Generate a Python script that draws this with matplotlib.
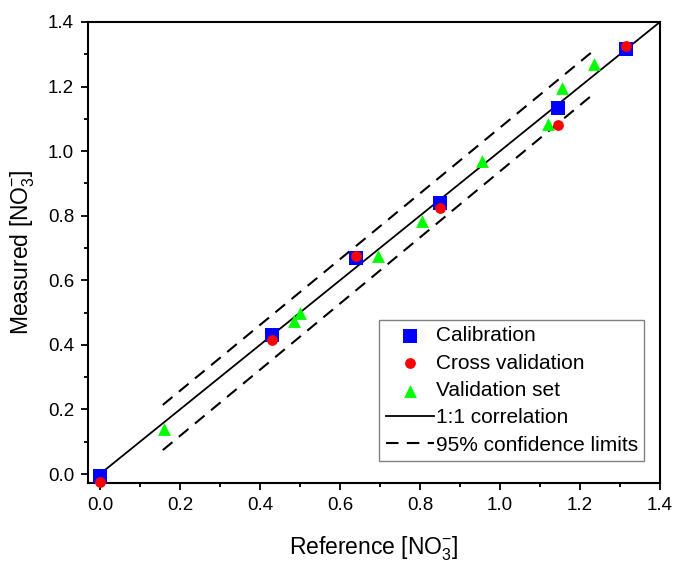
import numpy as np
import matplotlib
matplotlib.use("Agg")
import matplotlib.pyplot as plt
from matplotlib.ticker import MultipleLocator

plt.rcParams['font.family'] = ['Liberation Sans', 'DejaVu Sans']
plt.rcParams['mathtext.fontset'] = 'custom'
plt.rcParams['mathtext.rm'] = 'Liberation Sans'

# calibration samples
cal_x = [0.0, 0.43, 0.64, 0.85, 1.145, 1.315]
cal_y = [-0.005, 0.43, 0.67, 0.84, 1.135, 1.315]

# cross validation
cv_x = [0.0, 0.43, 0.64, 0.85, 1.145, 1.315]
cv_y = [-0.025, 0.415, 0.675, 0.825, 1.08, 1.325]

# external validation set
val_x = [0.16, 0.485, 0.50, 0.695, 0.805, 0.955, 1.12, 1.155, 1.235]
val_y = [0.14, 0.475, 0.50, 0.675, 0.785, 0.97, 1.085, 1.195, 1.27]

# 1:1 line and 95% confidence limits (end points)
line_x = [0.0, 1.4]
ci_x = [0.157, 1.227]
ci_upper = [0.214, 1.304]
ci_lower = [0.074, 1.170]

fig = plt.figure(figsize=(6.79, 5.63), dpi=100)
ax = fig.add_axes([0.1296, 0.142, 0.8424, 0.819])

ax.plot(line_x, line_x, 'k-', lw=1.3, label='1:1 correlation', zorder=2)
ax.plot(ci_x, ci_upper, 'k--', lw=1.5, dashes=(6, 4), label='95% confidence limits', zorder=2)
ax.plot(ci_x, ci_lower, 'k--', lw=1.5, dashes=(6, 4), zorder=2)

ax.scatter(cal_x, cal_y, marker='s', s=90, c='#0000ff', linewidths=0, label='Calibration',
           zorder=3, clip_on=False)
ax.scatter(cv_x, cv_y, marker='o', s=60, c='#ff0000', linewidths=0, label='Cross validation',
           zorder=4, clip_on=False)
ax.scatter(val_x, val_y, marker='^', s=85, c='#00ff00', linewidths=0, label='Validation set',
           zorder=3, clip_on=False)

ax.set_xlim(-0.03, 1.4)
ax.set_ylim(-0.028, 1.4)
ax.xaxis.set_major_locator(MultipleLocator(0.2))
ax.xaxis.set_minor_locator(MultipleLocator(0.1))
ax.yaxis.set_major_locator(MultipleLocator(0.2))
ax.yaxis.set_minor_locator(MultipleLocator(0.1))
ax.xaxis.set_major_formatter(plt.FuncFormatter(lambda v, p: '%.1f' % v))
ax.yaxis.set_major_formatter(plt.FuncFormatter(lambda v, p: '%.1f' % v))
ax.tick_params(which='major', direction='out', length=5, width=1.3, labelsize=13.5, pad=5)
ax.tick_params(which='minor', direction='out', length=3, width=1.3)
for s in ax.spines.values():
    s.set_linewidth(1.5)

ax.set_xlabel('Reference [NO$_3^{-}$]', fontsize=16.5, labelpad=15)
ax.set_ylabel('Measured [NO$_3^{-}$]', fontsize=16.5, labelpad=8)

h, l = ax.get_legend_handles_labels()
order = [2, 3, 4, 0, 1]
leg = ax.legend([h[i] for i in order], [l[i] for i in order], loc='lower right',
                bbox_to_anchor=(0.972, 0.048), borderaxespad=0,
                fontsize=15, fancybox=False, edgecolor='#808080', framealpha=1,
                handlelength=2.3, handletextpad=0.1, labelspacing=0.4,
                borderpad=0.3)
leg.get_frame().set_linewidth(1.0)

fig.savefig('out.png', dpi=100)
